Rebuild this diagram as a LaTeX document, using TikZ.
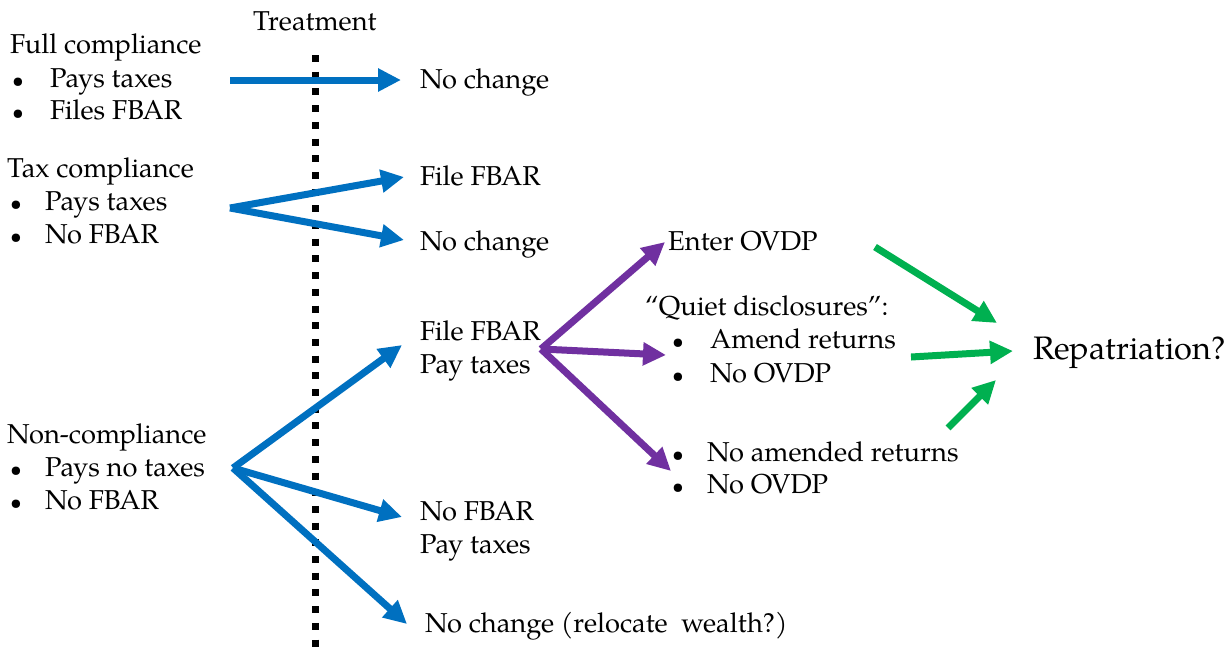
\documentclass[tikz,border=0pt]{standalone}
\usepackage{fontspec}
\setmainfont{TeX Gyre Pagella}
\usetikzlibrary{arrows.meta}
\definecolor{cblue}{HTML}{0070C0}
\definecolor{cpurple}{HTML}{7030A0}
\definecolor{cgreen}{HTML}{00B050}
\begin{document}
\begin{tikzpicture}[x=1pt,y=-1pt,
  txt/.style={inner sep=0pt,anchor=base west,font=\fontsize{27.3}{31}\selectfont},
  big/.style={inner sep=0pt,anchor=base west,font=\fontsize{32.5}{37}\selectfont},
  bul/.style={inner sep=0pt,anchor=base west,font=\fontsize{21}{30}\selectfont},
  arr/.style={line width=7pt,-{Triangle[length=23pt,width=22pt]}},
  bluearr/.style={arr,draw=cblue,fill=cblue},
  purparr/.style={arr,draw=cpurple,fill=cpurple},
  greenarr/.style={arr,draw=cgreen,fill=cgreen}]
\useasboundingbox[fill=white] (0,0) rectangle (1231,654);

% treatment line
\node[txt] (treat) at (253,30) {Treatment};
\coordinate (dtop) at (315,55);
\coordinate (dbot) at (315,660);
\draw[line width=7pt,dash pattern=on 7pt off 9.7pt] (dtop) -- (dbot);

% left column
\node[txt] (full) at (10,53) {Full compliance};
\node[bul] (fb1) at (12,87) {\textbullet};
\node[txt] (fl1) at (50,87) {Pays taxes};
\node[bul] (fb2) at (12,119) {\textbullet};
\node[txt] (fl2) at (50,119) {Files FBAR};

\node[txt] (tax) at (7,177) {Tax compliance};
\node[bul] (tb1) at (10,210) {\textbullet};
\node[txt] (tl1) at (45,210) {Pays taxes};
\node[bul] (tb2) at (10,243) {\textbullet};
\node[txt] (tl2) at (45,243) {No FBAR};

\node[txt] (non) at (7,443) {Non-compliance};
\node[bul] (nb1) at (10,476) {\textbullet};
\node[txt] (nl1) at (45,476) {Pays no taxes};
\node[bul] (nb2) at (10,509) {\textbullet};
\node[txt] (nl2) at (45,509) {No FBAR};

% middle column
\node[txt] (nc1) at (420,88) {No change};
\node[txt] (ff1) at (420,185) {File FBAR};
\node[txt] (nc2) at (420,250) {No change};
\node[txt] (ff2) at (420,340) {File FBAR};
\node[txt] (pt2) at (420,373) {Pay taxes};
\node[txt] (nf3) at (420,520) {No FBAR};
\node[txt] (pt3) at (420,553) {Pay taxes};
\node[txt] (nc4) at (425,632) {No change (relocate\ \ wealth?)};

% right column
\node[txt] (ovdp) at (668,250) {Enter OVDP};
\node[txt] (quiet) at (645,315) {``Quiet disclosures'':};
\node[bul] (qb1) at (672,348) {\textbullet};
\node[txt] (ql1) at (710,348) {Amend returns};
\node[bul] (qb2) at (672,382) {\textbullet};
\node[txt] (ql2) at (710,382) {No OVDP};
\node[bul] (ab1) at (672,461) {\textbullet};
\node[txt] (al1) at (707,461) {No amended returns};
\node[bul] (ab2) at (672,493) {\textbullet};
\node[txt] (al2) at (707,493) {No OVDP};

\node[big] (rep) at (1033,359) {Repatriation?};

% blue arrows
\coordinate (s1) at (230,80);   \coordinate (e1) at (401,80);
\coordinate (s2) at (230,208);  \coordinate (e2a) at (404,177); \coordinate (e2b) at (404,240);
\coordinate (s3) at (233,468);  \coordinate (e3a) at (402,345); \coordinate (e3b) at (402,517); \coordinate (e3c) at (407,624);
\draw[bluearr] (s1) -- (e1);
\draw[bluearr] (s2) -- (e2a);
\draw[bluearr] (s2) -- (e2b);
\draw[bluearr] (s3) -- (e3a);
\draw[bluearr] (s3) -- (e3b);
\draw[bluearr] (s3) -- (e3c);

% purple arrows
\coordinate (p0) at (541,349);
\coordinate (pa) at (665,242); \coordinate (pb) at (666,355); \coordinate (pc) at (671,471);
\draw[purparr] (p0) -- (pa);
\draw[purparr] (p0) -- (pb);
\draw[purparr] (p0) -- (pc);

% green arrows
\coordinate (g1s) at (875,247); \coordinate (g1e) at (997,323);
\coordinate (g2s) at (911,357); \coordinate (g2e) at (1013,351);
\coordinate (g3s) at (948,428); \coordinate (g3e) at (996,380);
\draw[greenarr] (g1s) -- (g1e);
\draw[greenarr] (g2s) -- (g2e);
\draw[greenarr] (g3s) -- (g3e);
\end{tikzpicture}
\end{document}
